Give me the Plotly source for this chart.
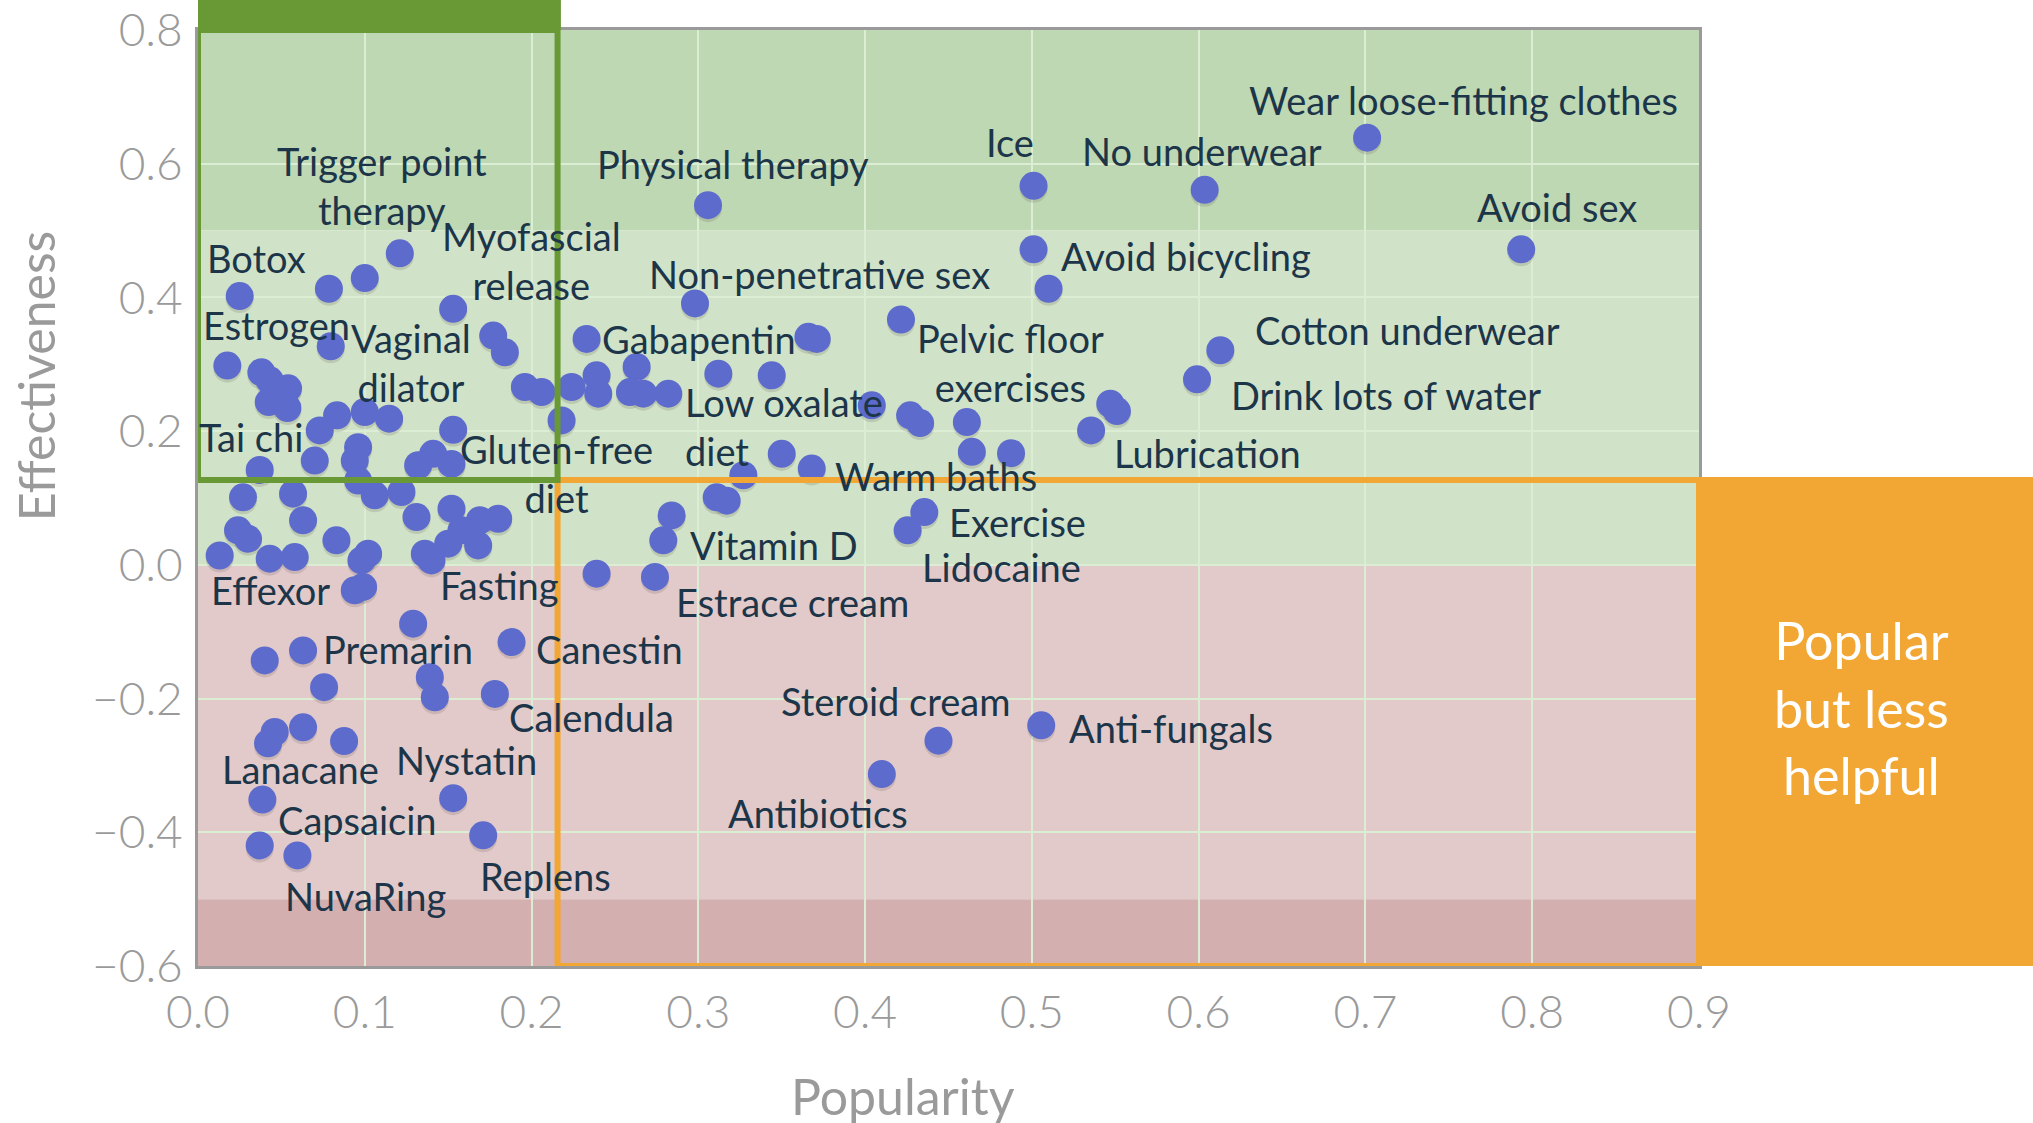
import plotly.graph_objects as go

# ---------------- data ----------------
popularity = [
    0.025, 0.0785, 0.100, 0.121, 0.153, 0.177, 0.184, 0.0796, 0.0176, 0.038,
    0.043, 0.054, 0.0424, 0.0536, 0.196, 0.0834, 0.073, 0.100, 0.1146, 0.153,
    0.096, 0.070, 0.037, 0.094, 0.141, 0.132, 0.152,
    0.027, 0.057, 0.063, 0.024, 0.030, 0.013, 0.043, 0.058, 0.083, 0.102,
    0.098, 0.094, 0.099, 0.096, 0.106, 0.122, 0.131, 0.152, 0.169, 0.180,
    0.158, 0.150, 0.168, 0.136, 0.140, 0.129, 0.188, 0.040, 0.063, 0.0756,
    0.139, 0.142, 0.178, 0.046, 0.042, 0.063, 0.0876, 0.0386, 0.153, 0.037,
    0.0596, 0.171,
    0.298, 0.233, 0.366, 0.371, 0.206, 0.224, 0.239, 0.240, 0.263, 0.259,
    0.267, 0.282, 0.312, 0.344, 0.218, 0.350, 0.368, 0.3058, 0.327, 0.311,
    0.317, 0.284, 0.279, 0.239, 0.274,
    0.510, 0.4215, 0.613, 0.599, 0.404, 0.427, 0.433, 0.461, 0.464, 0.4875,
    0.547, 0.551, 0.5355, 0.4355, 0.4255,
    0.501, 0.6036, 0.701, 0.7934, 0.501, 0.5056, 0.444, 0.410,
]
effectiveness = [
    0.402, 0.413, 0.429, 0.466, 0.383, 0.343, 0.318, 0.327, 0.298, 0.288,
    0.276, 0.264, 0.2435, 0.2346, 0.266, 0.2236, 0.201, 0.2286, 0.2187, 0.202,
    0.176, 0.156, 0.142, 0.156, 0.166, 0.149, 0.151,
    0.101, 0.1065, 0.0666, 0.0516, 0.039, 0.014, 0.0093, 0.0117, 0.0367, 0.0167,
    0.0067, -0.038, -0.033, 0.126, 0.104, 0.109, 0.0715, 0.084, 0.0666, 0.069,
    0.0516, 0.0317, 0.029, 0.0167, 0.0067, -0.088, -0.1155, -0.143, -0.128, -0.183,
    -0.168, -0.198, -0.193, -0.250, -0.267, -0.243, -0.2635, -0.351, -0.349, -0.4196,
    -0.4346, -0.4046,
    0.391, 0.338, 0.341, 0.338, 0.2585, 0.266, 0.2835, 0.256, 0.296, 0.2585,
    0.256, 0.256, 0.286, 0.2835, 0.216, 0.166, 0.144, 0.538, 0.134, 0.101,
    0.096, 0.074, 0.0367, -0.0132, -0.018,
    0.413, 0.367, 0.321, 0.2775, 0.2386, 0.2236, 0.212, 0.2136, 0.169, 0.167,
    0.241, 0.230, 0.201, 0.079, 0.0516,
    0.567, 0.561, 0.639, 0.472, 0.472, -0.240, -0.263, -0.313,
]

label_text = [
    "Wear loose-fitting clothes", "Ice", "No underwear", "Avoid sex",
    "Physical therapy", "Trigger point<br>therapy", "Botox", "Myofascial<br>release",
    "Non-penetrative sex", "Avoid bicycling", "Estrogen", "Vaginal<br>dilator",
    "Gabapentin", "Pelvic floor<br>exercises", "Cotton underwear", "Drink lots of water",
    "Low oxalate<br>diet", "Tai chi", "Gluten-free<br>diet", "Lubrication",
    "Warm baths", "Exercise", "Vitamin D", "Lidocaine", "Effexor", "Fasting",
    "Estrace cream", "Premarin", "Canestin", "Calendula", "Steroid cream",
    "Anti-fungals", "Lanacane", "Nystatin", "Capsaicin", "Antibiotics",
    "Replens", "NuvaRing",
]
label_x = [
    0.759, 0.487, 0.602, 0.815,
    0.3205, 0.1105, 0.035, 0.200,
    0.3727, 0.5927, 0.047, 0.1276,
    0.3003, 0.487, 0.725, 0.7125,
    0.291, 0.032, 0.2147, 0.605,
    0.4425, 0.4916, 0.3453, 0.4815, 0.0436, 0.1805,
    0.3563, 0.1198, 0.2466, 0.2357, 0.4185,
    0.5834, 0.0615, 0.161, 0.0957, 0.3718,
    0.2085, 0.1004,
]
label_y = [
    0.695, 0.633, 0.619, 0.536,
    0.600, 0.568, 0.4585, 0.4546,
    0.435, 0.4623, 0.359, 0.303,
    0.338, 0.303, 0.352, 0.2548,
    0.207, 0.1907, 0.1364, 0.1675,
    0.1325, 0.0648, 0.0298, -0.003, -0.038, -0.030,
    -0.0555, -0.1254, -0.1254, -0.228, -0.203,
    -0.2437, -0.3058, -0.292, -0.3814, -0.3717,
    -0.4648, -0.4959,
]
label_align = ["center"] * len(label_text)
label_align[16] = "left"

x_ticks = [0.0, 0.1, 0.2, 0.3, 0.4, 0.5, 0.6, 0.7, 0.8, 0.9]
y_ticks = [-0.6, -0.4, -0.2, 0.0, 0.2, 0.4, 0.6, 0.8]

# region boundaries
x_split = 0.2156
y_split = 0.127

# ---------------- figure ----------------
FONT = "Lato"
LABEL_COLOR = "#1c3549"
GREEN = "#689934"
ORANGE = "#f2a633"

fig = go.Figure()

shadow_y = [v - 0.0045 for v in effectiveness]
fig.add_trace(go.Scatter(
    x=popularity, y=shadow_y, mode="markers",
    marker=dict(size=28, color="rgba(90,70,70,0.16)", line=dict(width=0)),
    hoverinfo="skip", showlegend=False,
))
fig.add_trace(go.Scatter(
    x=popularity, y=effectiveness, mode="markers",
    marker=dict(size=28, color="#5d6bcc", line=dict(width=0)),
    showlegend=False,
))

shapes = [
    dict(type="rect", xref="x", yref="y", x0=0, x1=0.9, y0=0.5, y1=0.8,
         fillcolor="#bed8b3", line=dict(width=0), layer="below"),
    dict(type="rect", xref="x", yref="y", x0=0, x1=0.9, y0=0.0, y1=0.5,
         fillcolor="#d0e3c8", line=dict(width=0), layer="below"),
    dict(type="rect", xref="x", yref="y", x0=0, x1=0.9, y0=-0.5, y1=0.0,
         fillcolor="#e2caca", line=dict(width=0), layer="below"),
    dict(type="rect", xref="x", yref="y", x0=0, x1=0.9, y0=-0.6, y1=-0.5,
         fillcolor="#d4afaf", line=dict(width=0), layer="below"),
    # orange right panel
    dict(type="rect", xref="paper", yref="y", x0=1.0, x1=1.3, y0=-0.6045, y1=y_split + 0.0045,
         fillcolor=ORANGE, line=dict(width=0), layer="above"),
    # orange box
    dict(type="rect", xref="x", yref="y", x0=x_split, x1=0.9, y0=-0.6, y1=y_split,
         fillcolor="rgba(0,0,0,0)", line=dict(color=ORANGE, width=6), layer="above"),
    # green box
    dict(type="rect", xref="x", yref="y", x0=0.0, x1=x_split, y0=y_split, y1=0.8,
         fillcolor="rgba(0,0,0,0)", line=dict(color=GREEN, width=6), layer="above"),
    dict(type="rect", xref="x", yref="paper", x0=-0.002, x1=x_split + 0.002, y0=1.0, y1=1.06,
         fillcolor=GREEN, line=dict(width=0), layer="above"),
]

annotations = []
for t, lx, ly, a in zip(label_text, label_x, label_y, label_align):
    annotations.append(dict(
        x=lx, y=ly, xref="x", yref="y", text=t, showarrow=False,
        xanchor="center" if a == "center" else "left", yanchor="middle",
        align=a, font=dict(family=FONT, size=38, color=LABEL_COLOR),
    ))

annotations.append(dict(
    x=1.108, y=-0.2126, xref="paper", yref="y",
    text="Popular<br>but less<br>helpful", showarrow=False,
    xanchor="center", yanchor="middle", align="center",
    font=dict(family=FONT, size=52, color="white"),
))
annotations.append(dict(
    x=0.470, y=-0.139, xref="paper", yref="paper", text="Popularity",
    showarrow=False, xanchor="center", yanchor="middle",
    font=dict(family=FONT, size=50, color="#9a9a9a"),
))
annotations.append(dict(
    x=-0.108, y=0.63, xref="paper", yref="paper", text="Effectiveness",
    showarrow=False, xanchor="center", yanchor="middle", textangle=-90,
    font=dict(family=FONT, size=50, color="#9a9a9a"),
))

fig.update_layout(
    width=2033, height=1123,
    margin=dict(l=198, r=334, t=30, b=157, pad=0, autoexpand=False),
    paper_bgcolor="white", plot_bgcolor="white",
    font=dict(family=FONT),
    shapes=shapes, annotations=annotations,
    showlegend=False,
    xaxis=dict(
        range=[0, 0.9], tickvals=x_ticks, ticktext=[f"{v:.1f}" for v in x_ticks],
        showgrid=True, gridcolor="#dbeed4", gridwidth=2, automargin=False,
        zeroline=False, showline=True, linecolor="#9a9a9a", linewidth=3, mirror=True,
        ticks="", ticklabelstandoff=4, ticklabeloverflow="allow",
        tickfont=dict(family=FONT, size=46, color="#9a9a9a", weight=300),
    ),
    yaxis=dict(
        range=[-0.6, 0.8], tickvals=y_ticks,
        ticktext=[("\u2212" if v < 0 else "") + f"{abs(v):.1f}" for v in y_ticks],
        showgrid=True, gridcolor="#dbeed4", gridwidth=2, automargin=False,
        zeroline=False, showline=True, linecolor="#9a9a9a", linewidth=3, mirror=True,
        ticks="", ticklabelstandoff=3, ticklabeloverflow="allow",
        tickfont=dict(family=FONT, size=46, color="#9a9a9a", weight=300),
    ),
)

fig.write_html(
    "out.html",
    config={"displayModeBar": False},
    post_script="document.body.style.margin='0px'; document.body.style.overflow='hidden';",
)
